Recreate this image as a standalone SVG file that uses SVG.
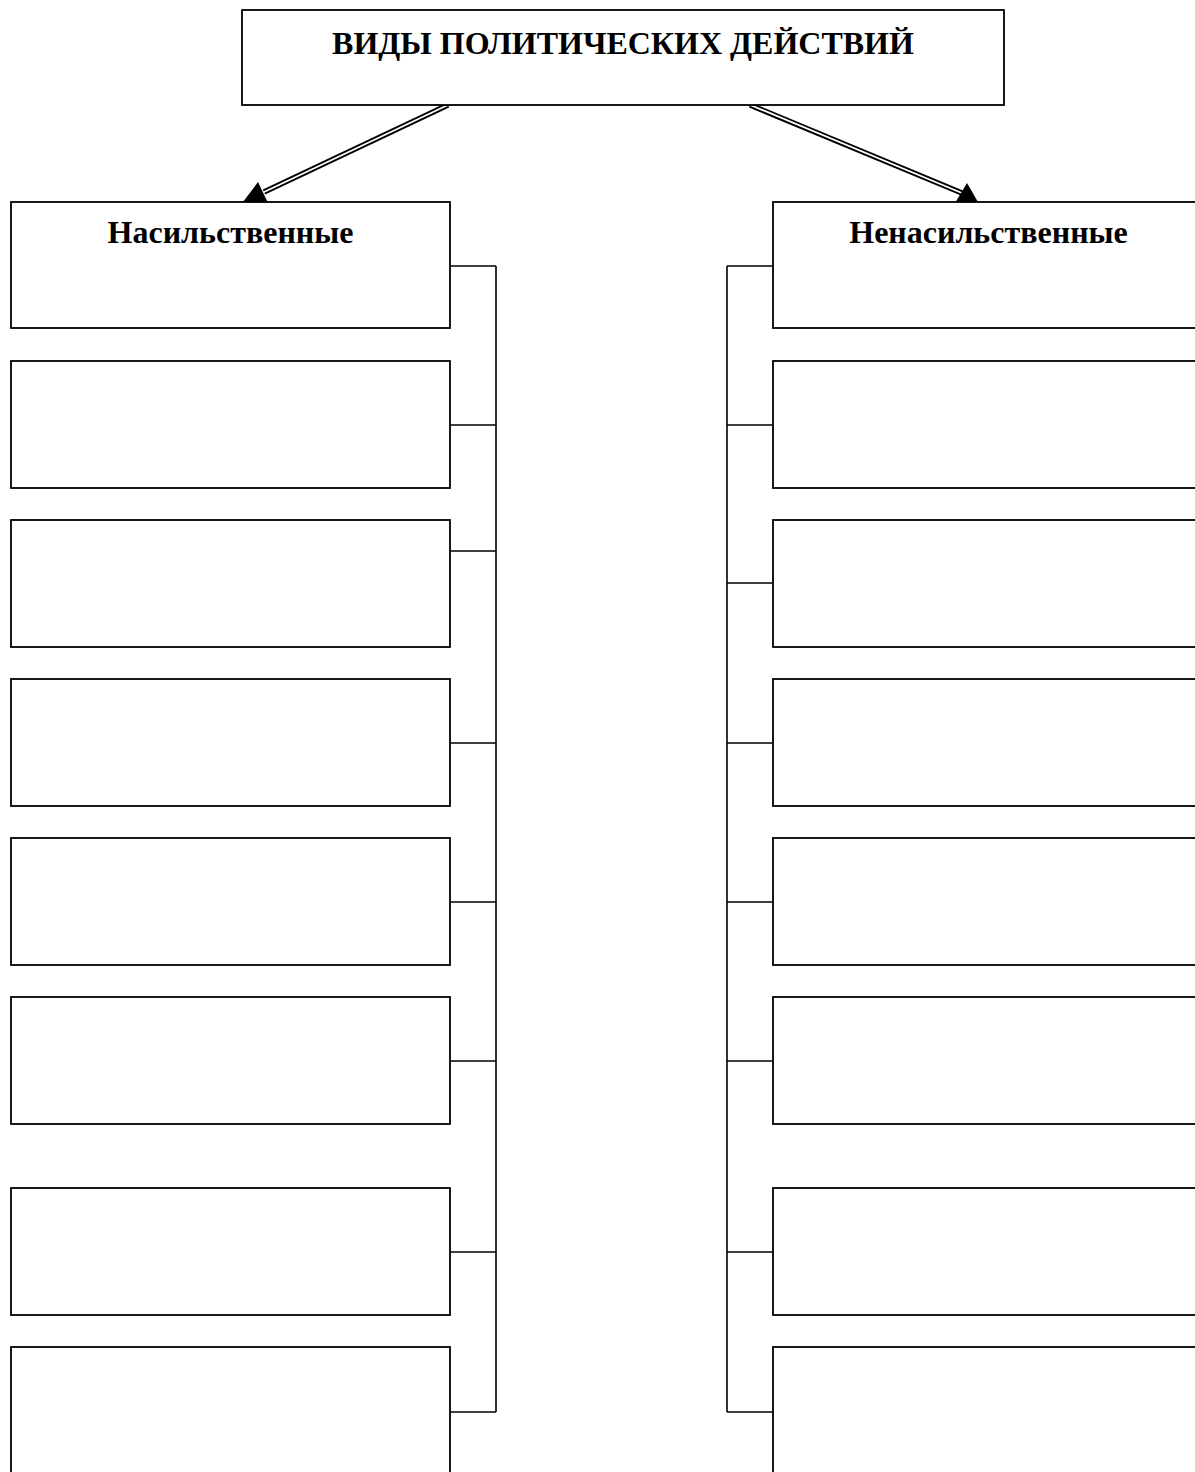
<svg xmlns="http://www.w3.org/2000/svg" width="1195" height="1472" viewBox="0 0 1195 1472">
<style>
.box{fill:#fff;stroke:#000;stroke-width:1.8}
.t{font-family:"Liberation Serif","Times New Roman",serif;font-weight:bold;font-size:32px;fill:#000;text-anchor:middle}
.c{fill:none;stroke:#000;stroke-width:1.6}
.dbl{stroke:#000;stroke-width:5.5;fill:none}
.dblw{stroke:#fff;stroke-width:1.8;fill:none}
</style>
<rect width="1195" height="1472" fill="#fff"/>
<g id="connectors">
<line class="dbl" x1="448" y1="105" x2="264" y2="192"/>
<line class="dblw" x1="450" y1="104" x2="263" y2="192.5"/>
<polygon points="243,202 258,182 268,203" fill="#000"/>
<line class="dbl" x1="750" y1="105" x2="962" y2="193"/>
<line class="dblw" x1="748" y1="104" x2="963" y2="193.5"/>
<polygon points="978,202 967,183 955,203" fill="#000"/>
<path class="c" d="M496,266V1412 M450,266H496 M450,425H496 M450,551H496 M450,743H496 M450,902H496 M450,1061H496 M450,1252H496 M450,1412H496"/>
<path class="c" d="M727,266V1412 M727,266H773 M727,425H773 M727,583H773 M727,743H773 M727,902H773 M727,1061H773 M727,1252H773 M727,1412H773"/>
</g>
<g id="title"><rect class="box" x="242" y="10" width="762" height="95"/><text class="t" x="623" y="54">ВИДЫ ПОЛИТИЧЕСКИХ ДЕЙСТВИЙ</text></g>
<g id="left-1"><rect class="box" x="11" y="202" width="439" height="126"/><text class="t" x="230.5" y="243">Насильственные</text></g>
<g id="left-2"><rect class="box" x="11" y="361" width="439" height="127"/></g>
<g id="left-3"><rect class="box" x="11" y="520" width="439" height="127"/></g>
<g id="left-4"><rect class="box" x="11" y="679" width="439" height="127"/></g>
<g id="left-5"><rect class="box" x="11" y="838" width="439" height="127"/></g>
<g id="left-6"><rect class="box" x="11" y="997" width="439" height="127"/></g>
<g id="left-7"><rect class="box" x="11" y="1188" width="439" height="127"/></g>
<g id="left-8"><rect class="box" x="11" y="1347" width="439" height="140"/></g>
<g id="right-1"><rect class="box" x="773" y="202" width="440" height="126"/><text class="t" x="988.5" y="243">Ненасильственные</text></g>
<g id="right-2"><rect class="box" x="773" y="361" width="440" height="127"/></g>
<g id="right-3"><rect class="box" x="773" y="520" width="440" height="127"/></g>
<g id="right-4"><rect class="box" x="773" y="679" width="440" height="127"/></g>
<g id="right-5"><rect class="box" x="773" y="838" width="440" height="127"/></g>
<g id="right-6"><rect class="box" x="773" y="997" width="440" height="127"/></g>
<g id="right-7"><rect class="box" x="773" y="1188" width="440" height="127"/></g>
<g id="right-8"><rect class="box" x="773" y="1347" width="440" height="140"/></g>
</svg>
